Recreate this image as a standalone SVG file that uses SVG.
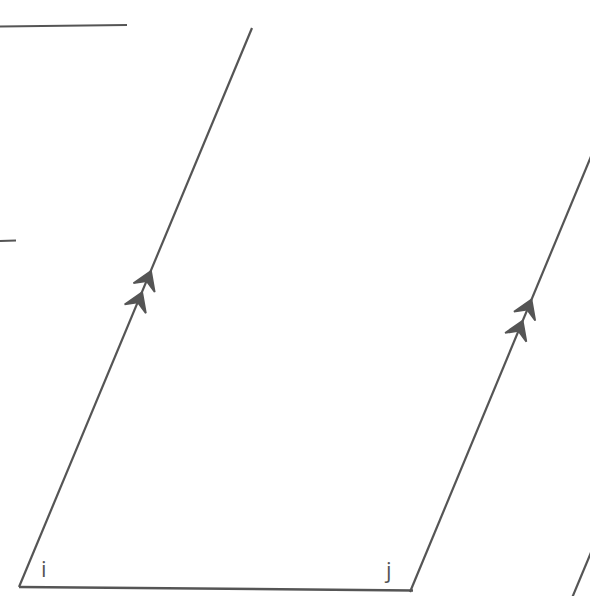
<svg xmlns="http://www.w3.org/2000/svg" width="590" height="596" viewBox="0 0 590 596">
<style>
.ln{stroke:#555;stroke-width:2.2;fill:none;stroke-linecap:butt}
.bt{stroke:#555;stroke-width:2.5;fill:none}
.lbl{font-family:"Open Sans","Noto Sans",sans-serif;font-size:22px;fill:#555}
.ah{fill:#555;stroke:#555;stroke-width:1.8;stroke-linejoin:miter}
</style>
<defs>
<path id="chev" class="ah" d="M0,0 L-18,-11.5 L-11,0 L-18,11.5 Z"/>
<g id="dbl"><use href="#chev"/><use href="#chev" transform="translate(-23,0)"/></g>
</defs>
<rect width="590" height="596" fill="#fff"/>
<g id="connectors">
<line class="ln" x1="0" y1="26.5" x2="127" y2="25"/>
<line class="ln" x1="0" y1="241" x2="16" y2="240.5"/>
<line class="ln" x1="19" y1="587" x2="252" y2="28"/>
<line class="ln" x1="410" y1="592" x2="592" y2="154"/>
<line class="ln" x1="572" y1="598" x2="592" y2="550"/>
<line class="bt" x1="19" y1="587" x2="413" y2="590.5"/>
<use href="#dbl" transform="translate(151,271) rotate(-67.4)"/>
<use href="#dbl" transform="translate(531.5,299.5) rotate(-67.4)"/>
</g>
<g id="node-i"><text class="lbl" x="41" y="577">i</text></g>
<g id="node-j"><text class="lbl" x="386" y="578">j</text></g>
</svg>
